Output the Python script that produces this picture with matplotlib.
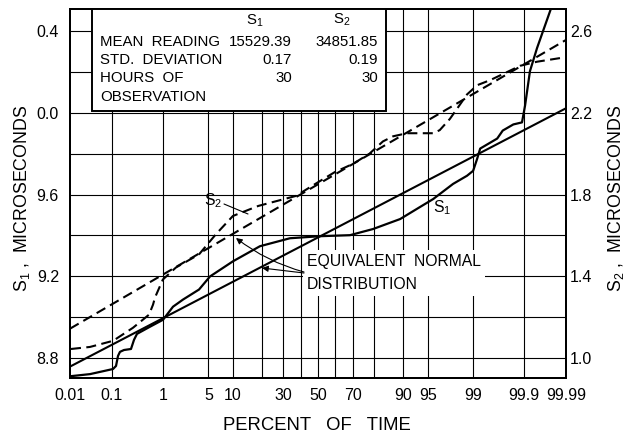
import numpy as np
import matplotlib
matplotlib.use("Agg")
import matplotlib.pyplot as plt
from matplotlib import font_manager
from matplotlib.patches import Rectangle
from statistics import NormalDist

# ---------------------------------------------------------------- data
# Cumulative percent of time (probability axis)
x_ticks = [0.01, 0.1, 1, 5, 10, 30, 50, 70, 90, 95, 99, 99.9, 99.99]
x_tick_labels = ["0.01", "0.1", "1", "5", "10", "30", "50", "70", "90", "95", "99", "99.9", "99.99"]
x_grid = [0.1, 1, 5, 10, 20, 30, 40, 50, 60, 70, 80, 90, 95, 99, 99.9]

# Left axis (S1) ticks; readings wrap past 10.0 so the label shows only the fraction
s1_ticks = [8.8, 9.2, 9.6, 10.0, 10.4]
s1_tick_labels = ["8.8", "9.2", "9.6", "0.0", "0.4"]
s1_grid = [8.8, 9.0, 9.2, 9.4, 9.6, 9.8, 10.0, 10.2, 10.4]
# Right axis (S2) ticks
s2_ticks = [1.0, 1.4, 1.8, 2.2, 2.6]
s2_tick_labels = ["1.0", "1.4", "1.8", "2.2", "2.6"]

# Observed cumulative distribution of S1
s1_pct = [0.0106, 0.0314, 0.1056, 0.1227, 0.1354, 0.149, 0.181, 0.252, 0.29, 0.332,
          0.588, 1.006, 1.485, 2.15, 3.72, 5.27, 10.1, 19.2, 33.7, 51.2, 68.4, 79.5,
          89.1, 93.7, 95.8, 97.86, 98.73, 99.0, 99.15, 99.25, 99.64, 99.72, 99.83,
          99.889, 99.905, 99.926, 99.949, 99.9775]
s1_val = [8.711, 8.721, 8.746, 8.761, 8.810, 8.830, 8.839, 8.844, 8.889, 8.918,
          8.953, 8.987, 9.051, 9.086, 9.135, 9.199, 9.273, 9.347, 9.386, 9.396, 9.401,
          9.431, 9.480, 9.539, 9.578, 9.652, 9.692, 9.716, 9.775, 9.825, 9.874, 9.913,
          9.943, 9.953, 10.036, 10.204, 10.317, 10.524]

# Observed cumulative distribution of S2
s2_pct = [0.0106, 0.0314, 0.106, 0.277, 0.564, 0.668, 0.726, 1.0, 1.66, 3.72, 6.3,
          10.1, 18.5, 37, 50, 60, 70, 78, 83.5, 87, 90.9, 95.8, 96.6, 97.6, 98.15,
          98.73, 99.15, 99.51, 99.725, 99.878, 99.949, 99.988]
s2_val = [1.044, 1.054, 1.084, 1.148, 1.212, 1.261, 1.296, 1.384, 1.443, 1.507, 1.606,
          1.695, 1.744, 1.793, 1.86, 1.91, 1.95, 2.00, 2.06, 2.085, 2.10, 2.10, 2.115,
          2.17, 2.22, 2.29, 2.335, 2.36, 2.39, 2.43, 2.45, 2.47]

# Summary statistics (equivalent normal distributions)
s1_mean_reading, s2_mean_reading = "15529.39", "34851.85"
s1_mean, s2_mean = 9.39, 1.85
s1_std, s2_std = 0.17, 0.19
s1_hours, s2_hours = 30, 30

# ---------------------------------------------------------------- fonts
names = {f.name for f in font_manager.fontManager.ttflist}
font = next((n for n in ["Liberation Sans Narrow", "DejaVu Sans Condensed",
                         "Liberation Sans", "DejaVu Sans"] if n in names), "DejaVu Sans")
plt.rcParams["font.family"] = [font, "DejaVu Sans"]
plt.rcParams["mathtext.fontset"] = "custom"
plt.rcParams["mathtext.rm"] = font
plt.rcParams["mathtext.default"] = "rm"
label_font = "Liberation Sans" if "Liberation Sans" in names else "DejaVu Sans"

# ---------------------------------------------------------------- scale
_nd = NormalDist()
_ppf = np.vectorize(_nd.inv_cdf, otypes=[float])
_cdf = np.vectorize(_nd.cdf, otypes=[float])


def pct_to_z(p):
    p = np.clip(np.asarray(p, dtype=float) / 100.0, 1e-9, 1 - 1e-9)
    return _ppf(p)


def z_to_pct(z):
    return _cdf(np.asarray(z, dtype=float)) * 100.0


W, H = 634, 442
fig = plt.figure(figsize=(W / 100, H / 100), dpi=100)
L, R, T, B = 70, 566, 9, 378
ax = fig.add_axes([L / W, 1 - B / H, (R - L) / W, (B - T) / H])
ax.set_xscale("function", functions=(pct_to_z, z_to_pct))
ax.set_xlim(0.01, 99.99)
ylo, yhi = 8.702, 10.508
ax.set_ylim(ylo, yhi)

offset = 7.8  # S2 axis shares the same microsecond spacing
ax2 = ax.twinx()
ax2.set_ylim(ylo - offset, yhi - offset)

# grid
for g in x_grid:
    ax.axvline(g, color="black", lw=0.8, zorder=1)
for g in s1_grid:
    ax.axhline(g, color="black", lw=0.8, zorder=1)

# ticks
ax.set_xticks(x_ticks)
ax.set_xticklabels(x_tick_labels)
ax.set_xticks([], minor=True)
ax.set_yticks(s1_ticks)
ax.set_yticklabels(s1_tick_labels)
ax.set_yticks([], minor=True)
ax2.set_yticks(s2_ticks)
ax2.set_yticklabels(s2_tick_labels)
ax2.set_yticks([], minor=True)
ax.tick_params(axis="x", length=0, pad=7, labelsize=11.5)
ax.tick_params(axis="y", length=0, pad=8, labelsize=11.5)
ax2.tick_params(axis="y", length=0, pad=3, labelsize=11.5)
for a in (ax, ax2):
    for s in a.spines.values():
        s.set_linewidth(1.4)

# equivalent normal lines
ends = np.array([0.01, 99.99])
ax.plot(ends, s1_mean + s1_std * pct_to_z(ends), color="black", lw=1.5, zorder=3)
ax2.plot(ends, s2_mean + s2_std * pct_to_z(ends), color="black", lw=1.5,
         dashes=(4.8, 2.6), zorder=3)

# observed distributions
ax.plot(s1_pct, s1_val, color="black", lw=1.6, zorder=3, solid_joinstyle="round")
ax2.plot(s2_pct, s2_val, color="black", lw=1.5, dashes=(4.8, 2.6), zorder=3)


def px(x, y):
    return ((x - L) / (R - L), (B - y) / (B - T))


# summary table
x0, y0 = px(92, 111)
x1, y1 = px(386, T)
ax2.add_patch(Rectangle((x0, y0), x1 - x0, y1 - y0, transform=ax2.transAxes,
                        facecolor="white", edgecolor="black", lw=1.4, zorder=6))
tfs = 10.8
ax2.text(*px(255, 21), "S$_1$", transform=ax2.transAxes, ha="center", va="center",
         fontsize=tfs, zorder=7)
ax2.text(*px(342, 20), "S$_2$", transform=ax2.transAxes, ha="center", va="center",
         fontsize=tfs, zorder=7)
rows = [("MEAN  READING", s1_mean_reading, s2_mean_reading, 42),
        ("STD.  DEVIATION", f"{s1_std:.2f}", f"{s2_std:.2f}", 60),
        ("HOURS  OF", f"{s1_hours}", f"{s2_hours}", 78),
        ("OBSERVATION", "", "", 97)]
for name, a, b, y in rows:
    ax2.text(*px(100, y), name, transform=ax2.transAxes, ha="left", va="center",
             fontsize=tfs, zorder=7)
    ax2.text(*px(292, y), a, transform=ax2.transAxes, ha="right", va="center",
             fontsize=tfs, zorder=7)
    ax2.text(*px(378, y), b, transform=ax2.transAxes, ha="right", va="center",
             fontsize=tfs, zorder=7)

# annotations
ax2.text(*px(307, 273), "EQUIVALENT  NORMAL\nDISTRIBUTION", transform=ax2.transAxes,
         ha="left", va="center", fontsize=11.3, linespacing=1.65, zorder=7,
         bbox=dict(facecolor="white", edgecolor="none", pad=3))
ax2.annotate("", xy=px(236, 238), xytext=px(304, 272), xycoords=ax2.transAxes,
             textcoords=ax2.transAxes, zorder=7,
             arrowprops=dict(arrowstyle="-|>", lw=0.8, color="black",
                             mutation_scale=9, shrinkA=0, shrinkB=0,
                             connectionstyle="arc3,rad=-0.1"))
ax2.annotate("", xy=px(262, 268), xytext=px(304, 273), xycoords=ax2.transAxes,
             textcoords=ax2.transAxes, zorder=7,
             arrowprops=dict(arrowstyle="-|>", lw=0.8, color="black",
                             mutation_scale=9, shrinkA=0, shrinkB=0))
ax2.text(*px(213, 201), "S$_2$", transform=ax2.transAxes, ha="center", va="center",
         fontsize=11.3, zorder=7)
ax2.annotate("", xy=px(248, 214), xytext=px(224, 204), xycoords=ax2.transAxes,
             textcoords=ax2.transAxes, zorder=7,
             arrowprops=dict(arrowstyle="-", lw=0.8, color="black", shrinkA=0, shrinkB=0))
ax2.text(*px(442, 208), "S$_1$", transform=ax2.transAxes, ha="center", va="center",
         fontsize=11.3, zorder=7)

# axis titles
fig.text(317 / W, 1 - 425 / H, "PERCENT   OF   TIME", ha="center", va="center",
         fontsize=13.3, family=label_font)
fig.text(22 / W, 1 - 198 / H, "S$_1$ ,  MICROSECONDS", ha="center", va="center",
         rotation=90, fontsize=12.8, family=label_font)
fig.text(616 / W, 1 - 198 / H, "S$_2$ ,  MICROSECONDS", ha="center", va="center",
         rotation=90, fontsize=12.8, family=label_font)

fig.savefig("out.png", dpi=100)
